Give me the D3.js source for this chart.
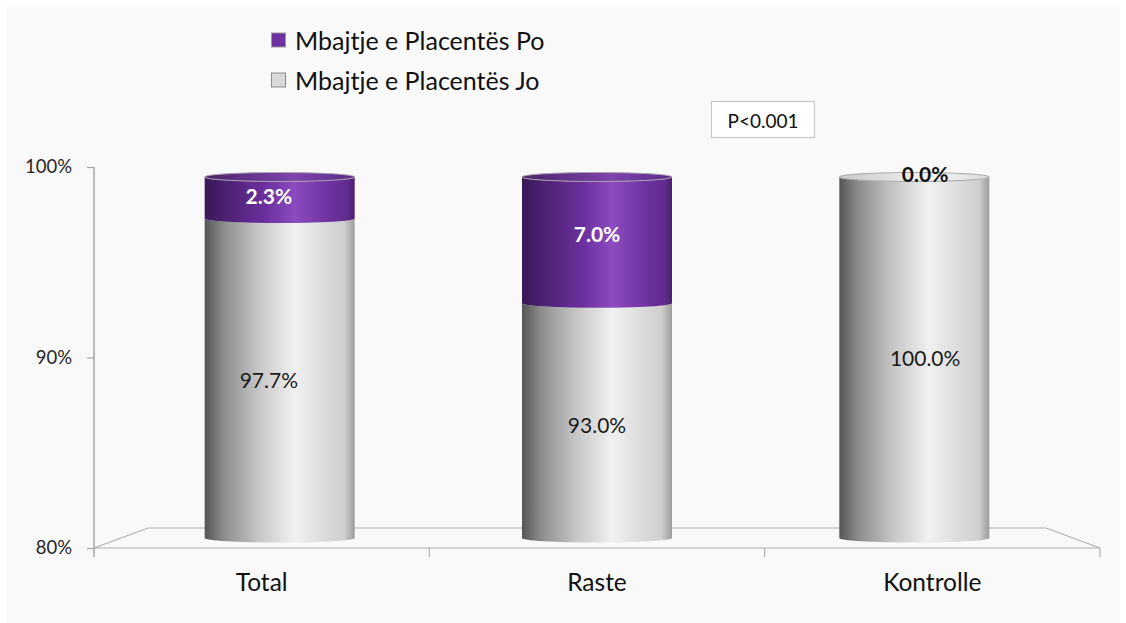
<!DOCTYPE html>
<html><head><meta charset="utf-8">
<script src="https://cdnjs.cloudflare.com/ajax/libs/d3/7.8.5/d3.min.js"></script>
<style>body{margin:0;background:#fff;}svg{display:block;}</style>
</head><body>
<svg id="c" width="1126" height="623"></svg>
<script>
const categories = ["Total", "Raste", "Kontrolle"];
const poValues = [2.3, 7.0, 0.0];
const joValues = [97.7, 93.0, 100.0];
const yTicks = [80, 90, 100];
const seriesNames = ["Mbajtje e Placentës Po", "Mbajtje e Placentës Jo"];
const pText = "P<0.001";

const svg = d3.select("#c");
const FONT = "Lato, 'Open Sans', sans-serif";

svg.append("rect").attr("x", 6).attr("y", 7).attr("width", 1114).attr("height", 616).attr("fill", "#f9f9f9");

// scales: front plane (axes) and mid-depth (cylinders)
const xFront = d3.scaleBand().domain(categories).range([94, 1100]);
const yFront = d3.scaleLinear().domain([80, 100]).range([548, 167]);
const xMid = d3.scaleBand().domain(categories).range([121, 1073]);
const yMid = d3.scaleLinear().domain([80, 100]).range([538, 177]);

const defs = svg.append("defs");
function grad(id, stops) {
  const g = defs.append("linearGradient").attr("id", id).attr("x1", 0).attr("x2", 1).attr("y1", 0).attr("y2", 0);
  stops.forEach(s => g.append("stop").attr("offset", s[0]).attr("stop-color", s[1]));
}
grad("gGray", [[0, "#555555"], [0.12, "#8a8a8a"], [0.35, "#c4c4c4"], [0.6, "#f1f1f1"], [0.85, "#d6d6d6"], [0.93, "#cfcfcf"], [1, "#9c9c9c"]]);
grad("gPurple", [[0, "#381855"], [0.15, "#4d2275"], [0.4, "#6a2f9c"], [0.6, "#8c4bc0"], [0.85, "#6c309c"], [0.95, "#622b8f"], [1, "#4a1f6e"]]);
grad("gGrayTop", [[0, "#c8c8c8"], [0.6, "#f4f4f4"], [1, "#dcdcdc"]]);
grad("gPurpleTop", [[0, "#4a2468"], [0.6, "#7e44ae"], [1, "#5e2a88"]]);

// floor
const floor = svg.append("g").attr("stroke", "#b0b0b0").attr("fill", "none").attr("stroke-width", 1.2);
floor.append("path").attr("d", `M94,548 L148,528 L1046,528 L1100,548 Z`);
[1100].concat(categories.slice(1).map(c => xFront(c))).forEach(x => {
  floor.append("line").attr("x1", x).attr("x2", x).attr("y1", 548).attr("y2", 557);
});

// y axis
const yAxis = svg.append("g").attr("transform", "translate(94,0)")
  .call(d3.axisLeft(yFront).tickValues(yTicks).tickSize(7).tickPadding(15).tickFormat(d => d + "%"));
yAxis.select(".domain").attr("stroke", "#a6a6a6").attr("stroke-width", 1.5).attr("d", "M0,167V557");
yAxis.selectAll(".tick line").attr("stroke", "#a6a6a6").attr("stroke-width", 1.2);
yAxis.selectAll(".tick text").attr("font-family", FONT).attr("font-size", 18.5).attr("fill", "#262626");

// category labels
svg.append("g").selectAll("text").data(categories).join("text")
  .attr("x", d => xFront(d) + xFront.bandwidth() / 2)
  .attr("y", 591).attr("text-anchor", "middle")
  .attr("font-family", FONT).attr("font-size", 24.5).attr("fill", "#111")
  .text(d => d);

// cylinders
const rx = 75, ry = 4.5;
function body(cx, yt, yb) {
  return `M${cx - rx},${yt} L${cx - rx},${yb} A${rx},${ry} 0 0 0 ${cx + rx},${yb} L${cx + rx},${yt} A${rx},${ry} 0 0 1 ${cx - rx},${yt} Z`;
}
const cyl = svg.append("g");
categories.forEach((c, i) => {
  const cx = xMid(c) + xMid.bandwidth() / 2;
  const segs = [
    { v0: 80, v1: joValues[i], fill: "url(#gGray)", top: "url(#gGrayTop)", stroke: "#a8a8a8" },
    { v0: joValues[i], v1: joValues[i] + poValues[i], fill: "url(#gPurple)", top: "url(#gPurpleTop)", stroke: "#a8a0ae" }
  ].filter(s => s.v1 > s.v0);
  segs.forEach(s => {
    cyl.append("path").attr("d", body(cx, yMid(s.v1), yMid(s.v0))).attr("fill", s.fill);
  });
  const last = segs[segs.length - 1];
  cyl.append("ellipse").attr("cx", cx).attr("cy", yMid(last.v1)).attr("rx", rx).attr("ry", ry)
    .attr("fill", last.top).attr("stroke", last.stroke).attr("stroke-width", 1);
});

// value labels
const lab = svg.append("g").attr("font-family", FONT).attr("text-anchor", "middle").attr("dominant-baseline", "central");
function labelX(c) {
  const f = xFront(c) + xFront.bandwidth() / 2, m = xMid(c) + xMid.bandwidth() / 2;
  return f + 0.4 * (m - f);
}
categories.forEach((c, i) => {
  lab.append("text").attr("x", labelX(c)).attr("y", yFront((80 + joValues[i]) / 2))
    .attr("font-size", 21).attr("fill", "#1a1a1a").text(joValues[i].toFixed(1) + "%");
  if (poValues[i] > 0) {
    lab.append("text").attr("x", labelX(c)).attr("y", yFront(joValues[i] + poValues[i] / 2) + (poValues[i] < 4 ? 7 : 0))
      .attr("font-size", 21).attr("font-weight", "bold").attr("fill", "#ffffff").text(poValues[i].toFixed(1) + "%");
  } else {
    lab.append("text").attr("x", labelX(c)).attr("y", 173)
      .attr("font-size", 21).attr("font-weight", "bold").attr("fill", "#111").text(poValues[i].toFixed(1) + "%");
  }
});

// legend
const legColors = [["#7030a0", "#9a9a9a"], ["#d9d9d9", "#8a8a8a"]];
const leg = svg.append("g");
seriesNames.forEach((n, i) => {
  const y = 40 + i * 40;
  leg.append("rect").attr("x", 271.5).attr("y", y - 7).attr("width", 14).attr("height", 14)
    .attr("fill", legColors[i][0]).attr("stroke", legColors[i][1]).attr("stroke-width", 1);
  leg.append("text").attr("x", 295).attr("y", y).attr("dominant-baseline", "central")
    .attr("font-family", FONT).attr("font-size", 25).attr("fill", "#111").text(n);
});

// p-value box
svg.append("rect").attr("x", 711.5).attr("y", 101.5).attr("width", 103).attr("height", 36)
  .attr("fill", "#ffffff").attr("stroke", "#c8c8c8").attr("stroke-width", 1.2);
svg.append("text").attr("x", 763).attr("y", 120).attr("text-anchor", "middle").attr("dominant-baseline", "central")
  .attr("font-family", FONT).attr("font-size", 19).attr("fill", "#111").text(pText);
</script>
</body></html>
